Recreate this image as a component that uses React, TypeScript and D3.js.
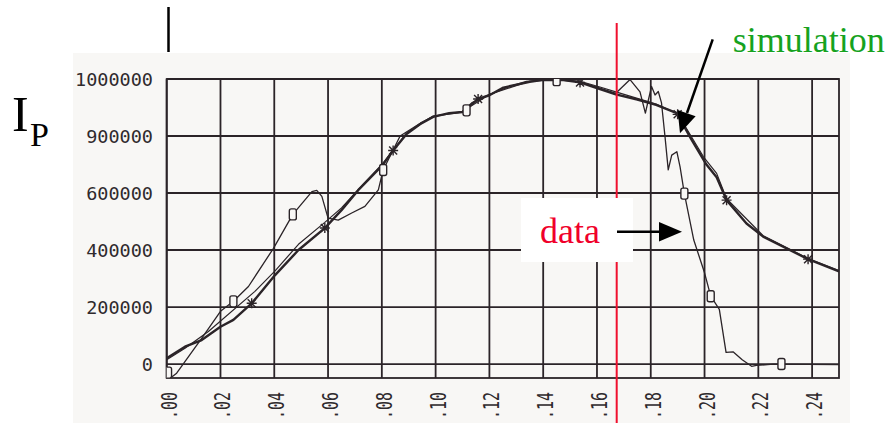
import * as d3 from "d3";
import React from "react";

// time axis (s) and plasma current (A)
const xTicks = [0, 0.02, 0.04, 0.06, 0.08, 0.1, 0.12, 0.14, 0.16, 0.18, 0.2, 0.22, 0.24];
const xTickLabels = [".00", ".02", ".04", ".06", ".08", ".10", ".12", ".14", ".16", ".18", ".20", ".22", ".24"];
const yTicks = [0, 200000, 400000, 600000, 800000, 1000000];
const yTickLabels = ["0", "200000", "400000", "600000", "900000", "1000000"];

// measured current (thin line)
const dataT = [0.002, 0.0037, 0.013, 0.02, 0.0248, 0.0304, 0.0397, 0.0469, 0.054, 0.0558, 0.0577, 0.06, 0.0638, 0.0688, 0.0737, 0.0787, 0.0805, 0.0868, 0.0943, 0.0991, 0.1097, 0.1134, 0.12, 0.1276, 0.1338, 0.14, 0.145, 0.1537, 0.1611, 0.167, 0.1723, 0.176, 0.178, 0.179, 0.1803, 0.1816, 0.1828, 0.184, 0.1853, 0.1865, 0.1878, 0.1897, 0.1909, 0.1925, 0.196, 0.2, 0.2023, 0.2055, 0.208, 0.2106, 0.214, 0.2175, 0.2193, 0.2255, 0.25];
const dataIp = [-45, -32, 90, 185, 220, 272, 406, 525, 605, 609, 588, 512, 505, 530, 553, 611, 681, 800, 845, 869, 884, 916, 945, 974, 992, 997, 998, 990, 968, 950, 998, 955, 880, 922, 974, 944, 956, 916, 798, 681, 733, 745, 692, 598, 435, 320, 238, 192, 41, 43, 15, -8, -5, 0, -2];
const dataMarkT = [0.0005, 0.0248, 0.0469, 0.0805, 0.1115, 0.145, 0.1925, 0.2023, 0.2286];
const dataMarkIp = [-30, 220, 525, 681, 890, 996, 598, 238, 0];

// simulation (thick line)
const simT = [0, 0.0068, 0.013, 0.02, 0.0248, 0.0316, 0.0403, 0.049, 0.0588, 0.065, 0.0712, 0.08, 0.0842, 0.0892, 0.0943, 0.0991, 0.105, 0.11, 0.1158, 0.12, 0.1252, 0.135, 0.14, 0.1475, 0.1537, 0.1586, 0.167, 0.175, 0.182, 0.1897, 0.195, 0.2007, 0.2045, 0.2082, 0.2156, 0.2218, 0.2385, 0.25];
const simIp = [20, 61, 84, 131, 155, 213, 312, 400, 477, 540, 610, 695, 749, 807, 842, 867, 880, 884, 930, 943, 970, 990, 997, 996, 988, 972, 946, 928, 909, 880, 790, 700, 655, 575, 493, 447, 368, 325];
const simMarkT = [0.0316, 0.0588, 0.0842, 0.1158, 0.1537, 0.19, 0.2082, 0.2385];
const simMarkIp = [213, 477, 749, 930, 988, 876, 575, 368];

// second simulation run (thin line beside the thick one)
const sim2T = [0, 0.0068, 0.0155, 0.0328, 0.0403, 0.049, 0.0588, 0.065, 0.0712, 0.08, 0.0892, 0.0991, 0.11, 0.12, 0.135, 0.145, 0.1537, 0.1611, 0.167, 0.175, 0.182, 0.19, 0.1996, 0.2045, 0.2082, 0.2218, 0.2385, 0.25];
const sim2Ip = [15, 55, 114, 255, 327, 420, 497, 548, 612, 700, 810, 870, 886, 946, 992, 999, 992, 972, 955, 932, 912, 878, 727, 669, 580, 450, 370, 328];

const ink = "#2b2428";

export default function App() {
  const x = d3.scaleLinear().domain([0, 0.25]).range([166.7, 839]);
  const y = d3.scaleLinear().domain([-49000, 1000000]).range([378, 79]);

  const line = d3
    .line<[number, number]>()
    .x((d) => x(d[0]))
    .y((d) => y(d[1] * 1000));

  const zip = (a: number[], b: number[]) => a.map((t, i) => [t, b[i]] as [number, number]);

  const [x0, x1] = x.range();
  const [yb, yt] = y.range();

  return (
    <svg width={892} height={423} style={{ position: "absolute", left: 0, top: 0 }}>
      <defs>
        <clipPath id="plot">
          <rect x={x0} y={yt} width={x1 - x0} height={yb - yt} />
        </clipPath>
      </defs>
      <rect width={892} height={423} fill="#fff" />
      <rect x={73} y={53} width={777} height={370} fill="#f8f7f5" />

      {/* grid */}
      <g stroke={ink} strokeWidth={1.8}>
        {yTicks.map((v) => (
          <line key={"h" + v} x1={x0} x2={x1} y1={y(v)} y2={y(v)} />
        ))}
        {xTicks.map((v) => (
          <line key={"v" + v} x1={x(v)} x2={x(v)} y1={yt} y2={yb} />
        ))}
        <rect x={x0} y={yt} width={x1 - x0} height={yb - yt} fill="none" />
      </g>

      {/* tick labels */}
      <g fontFamily="DejaVu Sans Mono" fill="#2f2a2d">
        {yTicks.map((v, i) => (
          <text key={"yl" + v} x={153} y={y(v)} dy="0.36em" fontSize={18.5} textAnchor="end">
            {yTickLabels[i]}
          </text>
        ))}
        {xTicks.map((v, i) => (
          <text
            key={"xl" + v}
            fontSize={17}
            textAnchor="end"
            transform={`translate(${x(v) + 10},392) rotate(-90) scale(0.88,1.2)`}
          >
            {xTickLabels[i]}
          </text>
        ))}
      </g>

      {/* curves */}
      <g clipPath="url(#plot)" fill="none" stroke={ink} strokeLinejoin="round">
        <path d={line(zip(sim2T, sim2Ip)) ?? ""} strokeWidth={1.2} />
        <path d={line(zip(simT, simIp)) ?? ""} strokeWidth={2.4} />
        <path d={line(zip(dataT, dataIp)) ?? ""} strokeWidth={1.3} />
        {dataMarkT.map((t, i) => (
          <rect
            key={"dm" + i}
            x={x(t) - 3.5}
            y={y(dataMarkIp[i] * 1000) - 5.5}
            width={7}
            height={11}
            rx={2}
            fill="#f8f7f5"
            strokeWidth={1.4}
          />
        ))}
        {simMarkT.map((t, i) => (
          <path
            key={"sm" + i}
            transform={`translate(${x(t)},${y(simMarkIp[i] * 1000)})`}
            d="M-5,0H5M0,-5V5M-4,-4L4,4M-4,4L4,-4"
            strokeWidth={1.4}
          />
        ))}
      </g>

      {/* annotations */}
      <line x1={168.5} x2={168.5} y1={7} y2={52} stroke="#000" strokeWidth={2.5} />
      <line x1={616.7} x2={616.7} y1={23} y2={423} stroke="#f0102e" strokeWidth={2} />
      <rect x={521} y={198} width={112} height={64} fill="#fff" />
      <text x={540} y={243} fontFamily="Liberation Serif" fontSize={36} fill="#f0002a">
        data
      </text>
      <line x1={617} y1={231.7} x2={662} y2={231.7} stroke="#000" strokeWidth={2.5} />
      <path d="M682,231.7L659,222L659,241.4Z" fill="#000" />
      <text x={732.7} y={51.7} fontFamily="Liberation Serif" fontSize={36} fill="#16a21e">
        simulation
      </text>
      <line x1={712.7} y1={39.3} x2={687} y2={113} stroke="#000" strokeWidth={2.5} />
      <path d="M680,133.3L677.6,110L695.6,116.3Z" fill="#000" />
      <text x={12} y={131} fontFamily="Liberation Serif" fontSize={50} fill="#000">
        I
      </text>
      <text x={30} y={146} fontFamily="Liberation Serif" fontSize={34} fill="#000">
        P
      </text>
    </svg>
  );
}
